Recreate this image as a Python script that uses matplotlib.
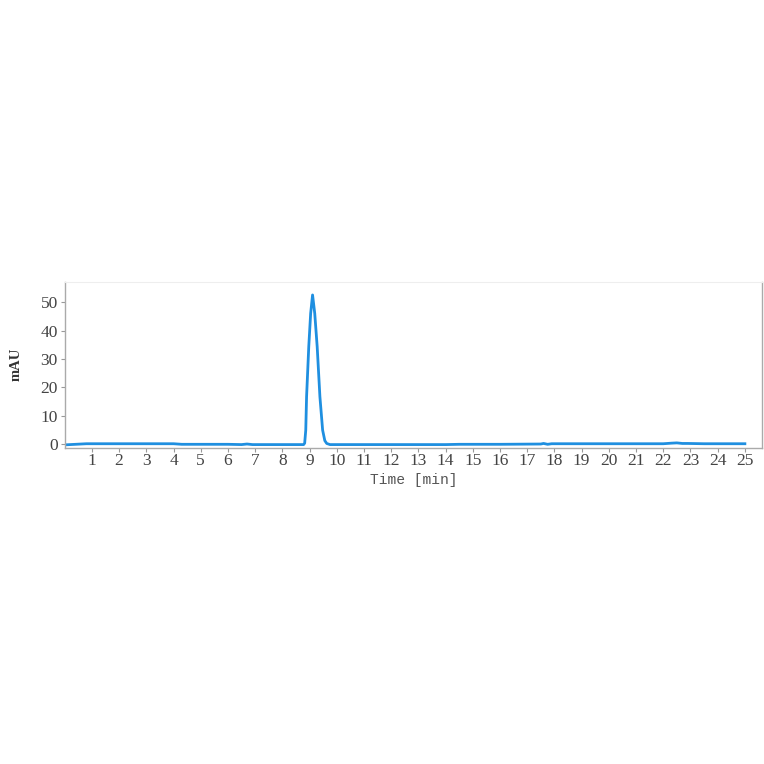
import matplotlib
matplotlib.use("Agg")
import matplotlib.pyplot as plt

# Chromatogram trace (time in min, absorbance in mAU)
time_min = [0.0, 0.4, 0.8, 1.5, 2.5, 3.5, 4.0, 4.3, 5.0, 6.0, 6.5, 6.7, 6.9, 7.5, 8.0, 8.5, 8.78,
            8.82, 8.86, 8.89, 8.97, 9.04, 9.11, 9.19, 9.28, 9.38, 9.48, 9.56, 9.63, 9.75,
            10.5, 12.0, 13.5, 14.0, 14.5, 16.0, 17.5, 17.6, 17.75, 17.9, 19.0, 20.5, 22.0,
            22.3, 22.5, 22.7, 22.9, 23.5, 24.5, 25.0]
mau = [-0.3, -0.1, 0.1, 0.1, 0.1, 0.1, 0.1, -0.1, -0.1, -0.1, -0.2, 0.0, -0.2, -0.2, -0.2, -0.2, -0.2,
       0.3, 4.9, 16.7, 34.3, 46.1, 52.6, 46.1, 34.3, 16.7, 4.9, 1.2, 0.2, -0.2,
       -0.2, -0.2, -0.2, -0.2, -0.1, -0.1, 0.0, 0.2, -0.1, 0.1, 0.1, 0.1, 0.1,
       0.3, 0.4, 0.2, 0.2, 0.1, 0.1, 0.1]

x_ticks = list(range(1, 26))
y_ticks = [0, 10, 20, 30, 40, 50]

fig = plt.figure(figsize=(7.64, 7.64), dpi=100)
ax = fig.add_axes([0.0847, 0.414, 0.9127, 0.217])
ax.plot(time_min, mau, color="#1f8fe0", lw=2.0, solid_joinstyle="round")

ax.set_xlim(0, 25.63)
ax.set_ylim(-1.3, 57.2)
ax.set_xticks(x_ticks)
ax.set_yticks(y_ticks)

serif = ["Liberation Serif", "DejaVu Serif"]
for lab in ax.get_xticklabels() + ax.get_yticklabels():
    lab.set_family(serif)
    lab.set_fontsize(12.5)
    lab.set_color("#444444")

ax.tick_params(axis="both", length=3, width=0.8, color="#999999")
ax.tick_params(axis="x", pad=1)
ax.tick_params(axis="y", pad=2)

for s in ["left", "bottom", "right"]:
    ax.spines[s].set_color("#aaaaaa")
    ax.spines[s].set_linewidth(1.0)
ax.spines["top"].set_color("#eeeeee")
ax.spines["top"].set_linewidth(0.8)

ax.set_ylabel("mAU", family=serif, fontsize=10.5, fontweight="bold", color="#333333", labelpad=13)
ax.set_xlabel("Time [min]", family=["Liberation Mono", "DejaVu Sans Mono"], fontsize=10.5,
              color="#555555", labelpad=2.5)

fig.savefig("out.png", dpi=100, facecolor="white")
